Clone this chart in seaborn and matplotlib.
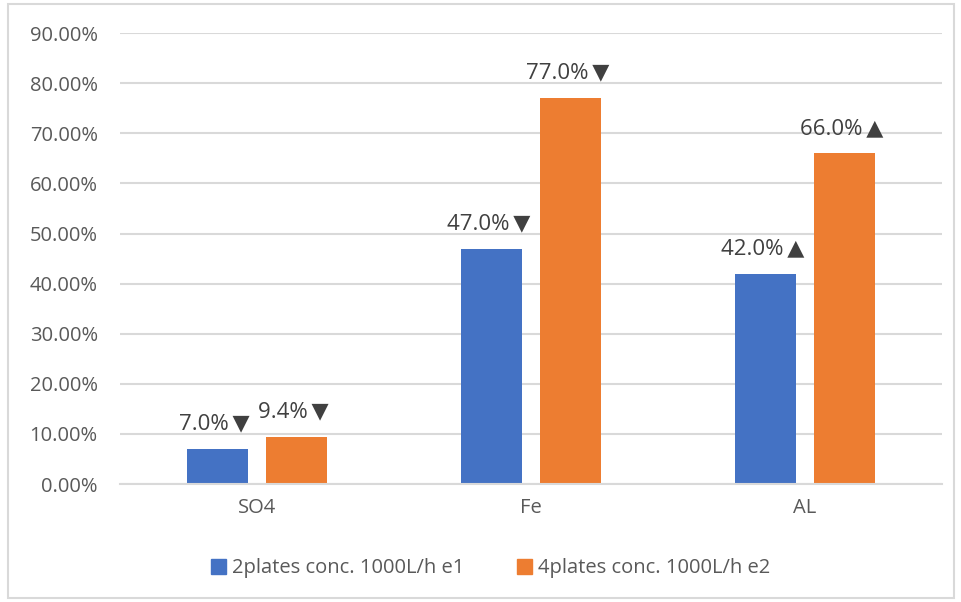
import matplotlib
matplotlib.use("Agg")
import matplotlib.pyplot as plt
import matplotlib.patches as mpatches
from matplotlib.ticker import PercentFormatter
import seaborn as sns
import pandas as pd

categories = ["SO4", "Fe", "AL"]
series_names = ["2plates conc. 1000L/h e1", "4plates conc. 1000L/h e2"]
series_1 = [7.0, 47.0, 42.0]
series_2 = [9.4, 77.0, 66.0]
arrows_1 = ["▼", "▼", "▲"]
arrows_2 = ["▼", "▼", "▲"]
y_ticks = [0, 10, 20, 30, 40, 50, 60, 70, 80, 90]

colors = ["#4472C4", "#ED7D31"]
text_color = "#595959"
grid_color = "#D9D9D9"

df = pd.DataFrame({
    "category": categories * 2,
    "series": [series_names[0]] * 3 + [series_names[1]] * 3,
    "value": series_1 + series_2,
})

sns.set_theme(style="white")
plt.rcParams["font.family"] = ["Open Sans", "DejaVu Sans"]

fig = plt.figure(figsize=(9.62, 6.02), dpi=100)
ax = fig.add_axes([0.1247, 0.196, 0.979 - 0.1247, 0.945 - 0.196])

sns.barplot(data=df, x="category", y="value", hue="series", order=categories,
            hue_order=series_names, palette=colors, width=0.576, gap=0.226,
            saturation=1, legend=False, linewidth=0, ax=ax)

ax.set_ylim(0, 90)
ax.set_yticks(y_ticks)
ax.yaxis.set_major_formatter(PercentFormatter(decimals=2))
ax.grid(axis="y", color=grid_color, linewidth=1.5)
ax.set_axisbelow(True)
for s in ["top", "right", "left"]:
    ax.spines[s].set_visible(False)
ax.spines["bottom"].set_color(grid_color)
ax.spines["bottom"].set_linewidth(1.5)
ax.set_xlabel("")
ax.set_ylabel("")
ax.tick_params(axis="y", length=0, pad=16, labelsize=14.5, labelcolor=text_color)
ax.tick_params(axis="x", length=0, pad=10, labelsize=14.5, labelcolor=text_color)

# value labels with trend arrows above each bar
for container, vals, arrows in zip(ax.containers, [series_1, series_2], [arrows_1, arrows_2]):
    for bar, v, a in zip(container, vals, arrows):
        ax.annotate(f"{v:.1f}%\u2009{a}", (bar.get_x() + bar.get_width() / 2, v),
                    xytext=(-2, 14), textcoords="offset points",
                    ha="center", va="baseline", fontsize=16, color="#404040")

handles = [mpatches.Patch(color=c, label=n) for c, n in zip(colors, series_names)]
fig.legend(handles=handles, loc="center", bbox_to_anchor=(0.51, 0.056), ncol=2,
           frameon=False, fontsize=14.5, labelcolor=text_color,
           handlelength=0.75, handleheight=0.75, handletextpad=0.3, columnspacing=2.6)

# light chart-area border
fig.patches.append(mpatches.Rectangle((8 / 962, 4 / 602), 946 / 962, 594 / 602,
                                      transform=fig.transFigure, fill=False,
                                      edgecolor=grid_color, linewidth=1.5))

fig.savefig("out.png", dpi=100)
